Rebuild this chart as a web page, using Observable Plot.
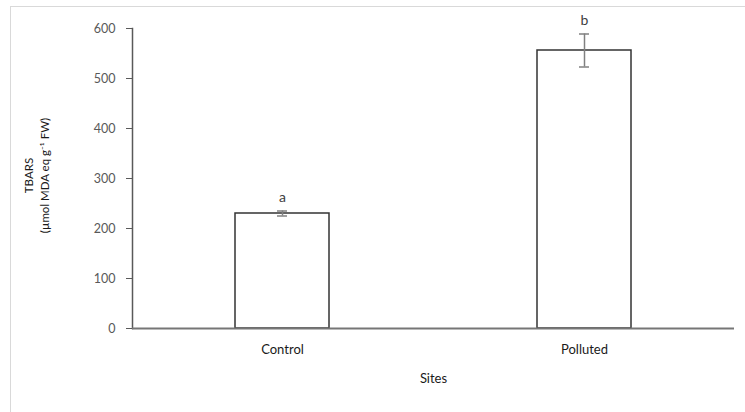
<!DOCTYPE html>
<html>
<head>
<meta charset="utf-8">
<script src="https://cdn.jsdelivr.net/npm/d3@7"></script>
<script src="https://cdn.jsdelivr.net/npm/@observablehq/plot@0.6"></script>
<style>
  html, body { margin: 0; padding: 0; background: #fff; }
  #wrap { position: relative; width: 745px; height: 412px; }
  #frame { position: absolute; left: 10px; top: 6px; width: 735px; height: 406px;
           border-left: 1px solid #d9d9d9; border-top: 1px solid #d9d9d9; box-sizing: border-box; pointer-events: none; }
</style>
</head>
<body>
<div id="wrap"><div id="frame"></div></div>
<script>
const sites = ["Control", "Polluted"];
const means = [230, 556];
const errors = [5, 33];
const letters = ["a", "b"];
const yTicks = [0, 100, 200, 300, 400, 500, 600];
const yLabel = "TBARS\n(µmol MDA eq g⁻¹ FW)";
const xLabel = "Sites";

const data = sites.map((s, i) => ({site: s, mean: means[i], err: errors[i], letter: letters[i]}));

const font = "Lato, 'Open Sans', sans-serif";
const chart = Plot.plot({
  width: 745,
  height: 412,
  marginLeft: 132,
  marginRight: 11,
  marginTop: 28,
  marginBottom: 84,
  style: {fontFamily: font, fontSize: "12px", color: "#595959", background: "transparent"},
  x: {domain: sites, paddingInner: 0.688, paddingOuter: 0.34, label: null},
  y: {domain: [0, 600], ticks: yTicks, label: null},
  marks: [
    Plot.axisY({ticks: yTicks, tickSize: 6, tickPadding: 11, stroke: "#595959", fill: "#595959", fontSize: 12.5, label: null}),
    Plot.axisX({tickSize: 0, tickPadding: 16, fill: "#1a1a1a", fontSize: 13, label: null}),
    Plot.frame({anchor: "left", stroke: "#595959", strokeWidth: 1.5}),
    Plot.barY(data, {x: "site", y: "mean", fill: "white", stroke: "#333", strokeWidth: 1.5}),
    Plot.ruleY([0], {stroke: "#767676", strokeWidth: 2}),
    Plot.ruleX(data, {x: "site", y1: d => d.mean - d.err, y2: d => d.mean + d.err, stroke: "#808080", strokeWidth: 1.5}),
    Plot.tickY(data, {x: "site", y: d => d.mean - d.err, stroke: "#808080", strokeWidth: 1.5, insetLeft: 42, insetRight: 42}),
    Plot.tickY(data, {x: "site", y: d => d.mean + d.err, stroke: "#808080", strokeWidth: 1.5, insetLeft: 42, insetRight: 42}),
    Plot.text(data, {x: "site", y: d => d.mean + d.err, text: "letter", dy: -13, fill: "#404040", fontSize: 14}),
    Plot.text([yLabel], {frameAnchor: "left", textAnchor: "middle", dx: -97, dy: -3, rotate: -90, fill: "#1a1a1a", fontSize: 11.5, lineHeight: 1.45}),
    Plot.text([xLabel], {frameAnchor: "bottom", dy: 54, fill: "#1a1a1a", fontSize: 13})
  ]
});
document.getElementById("wrap").prepend(chart);
</script>
</body>
</html>
